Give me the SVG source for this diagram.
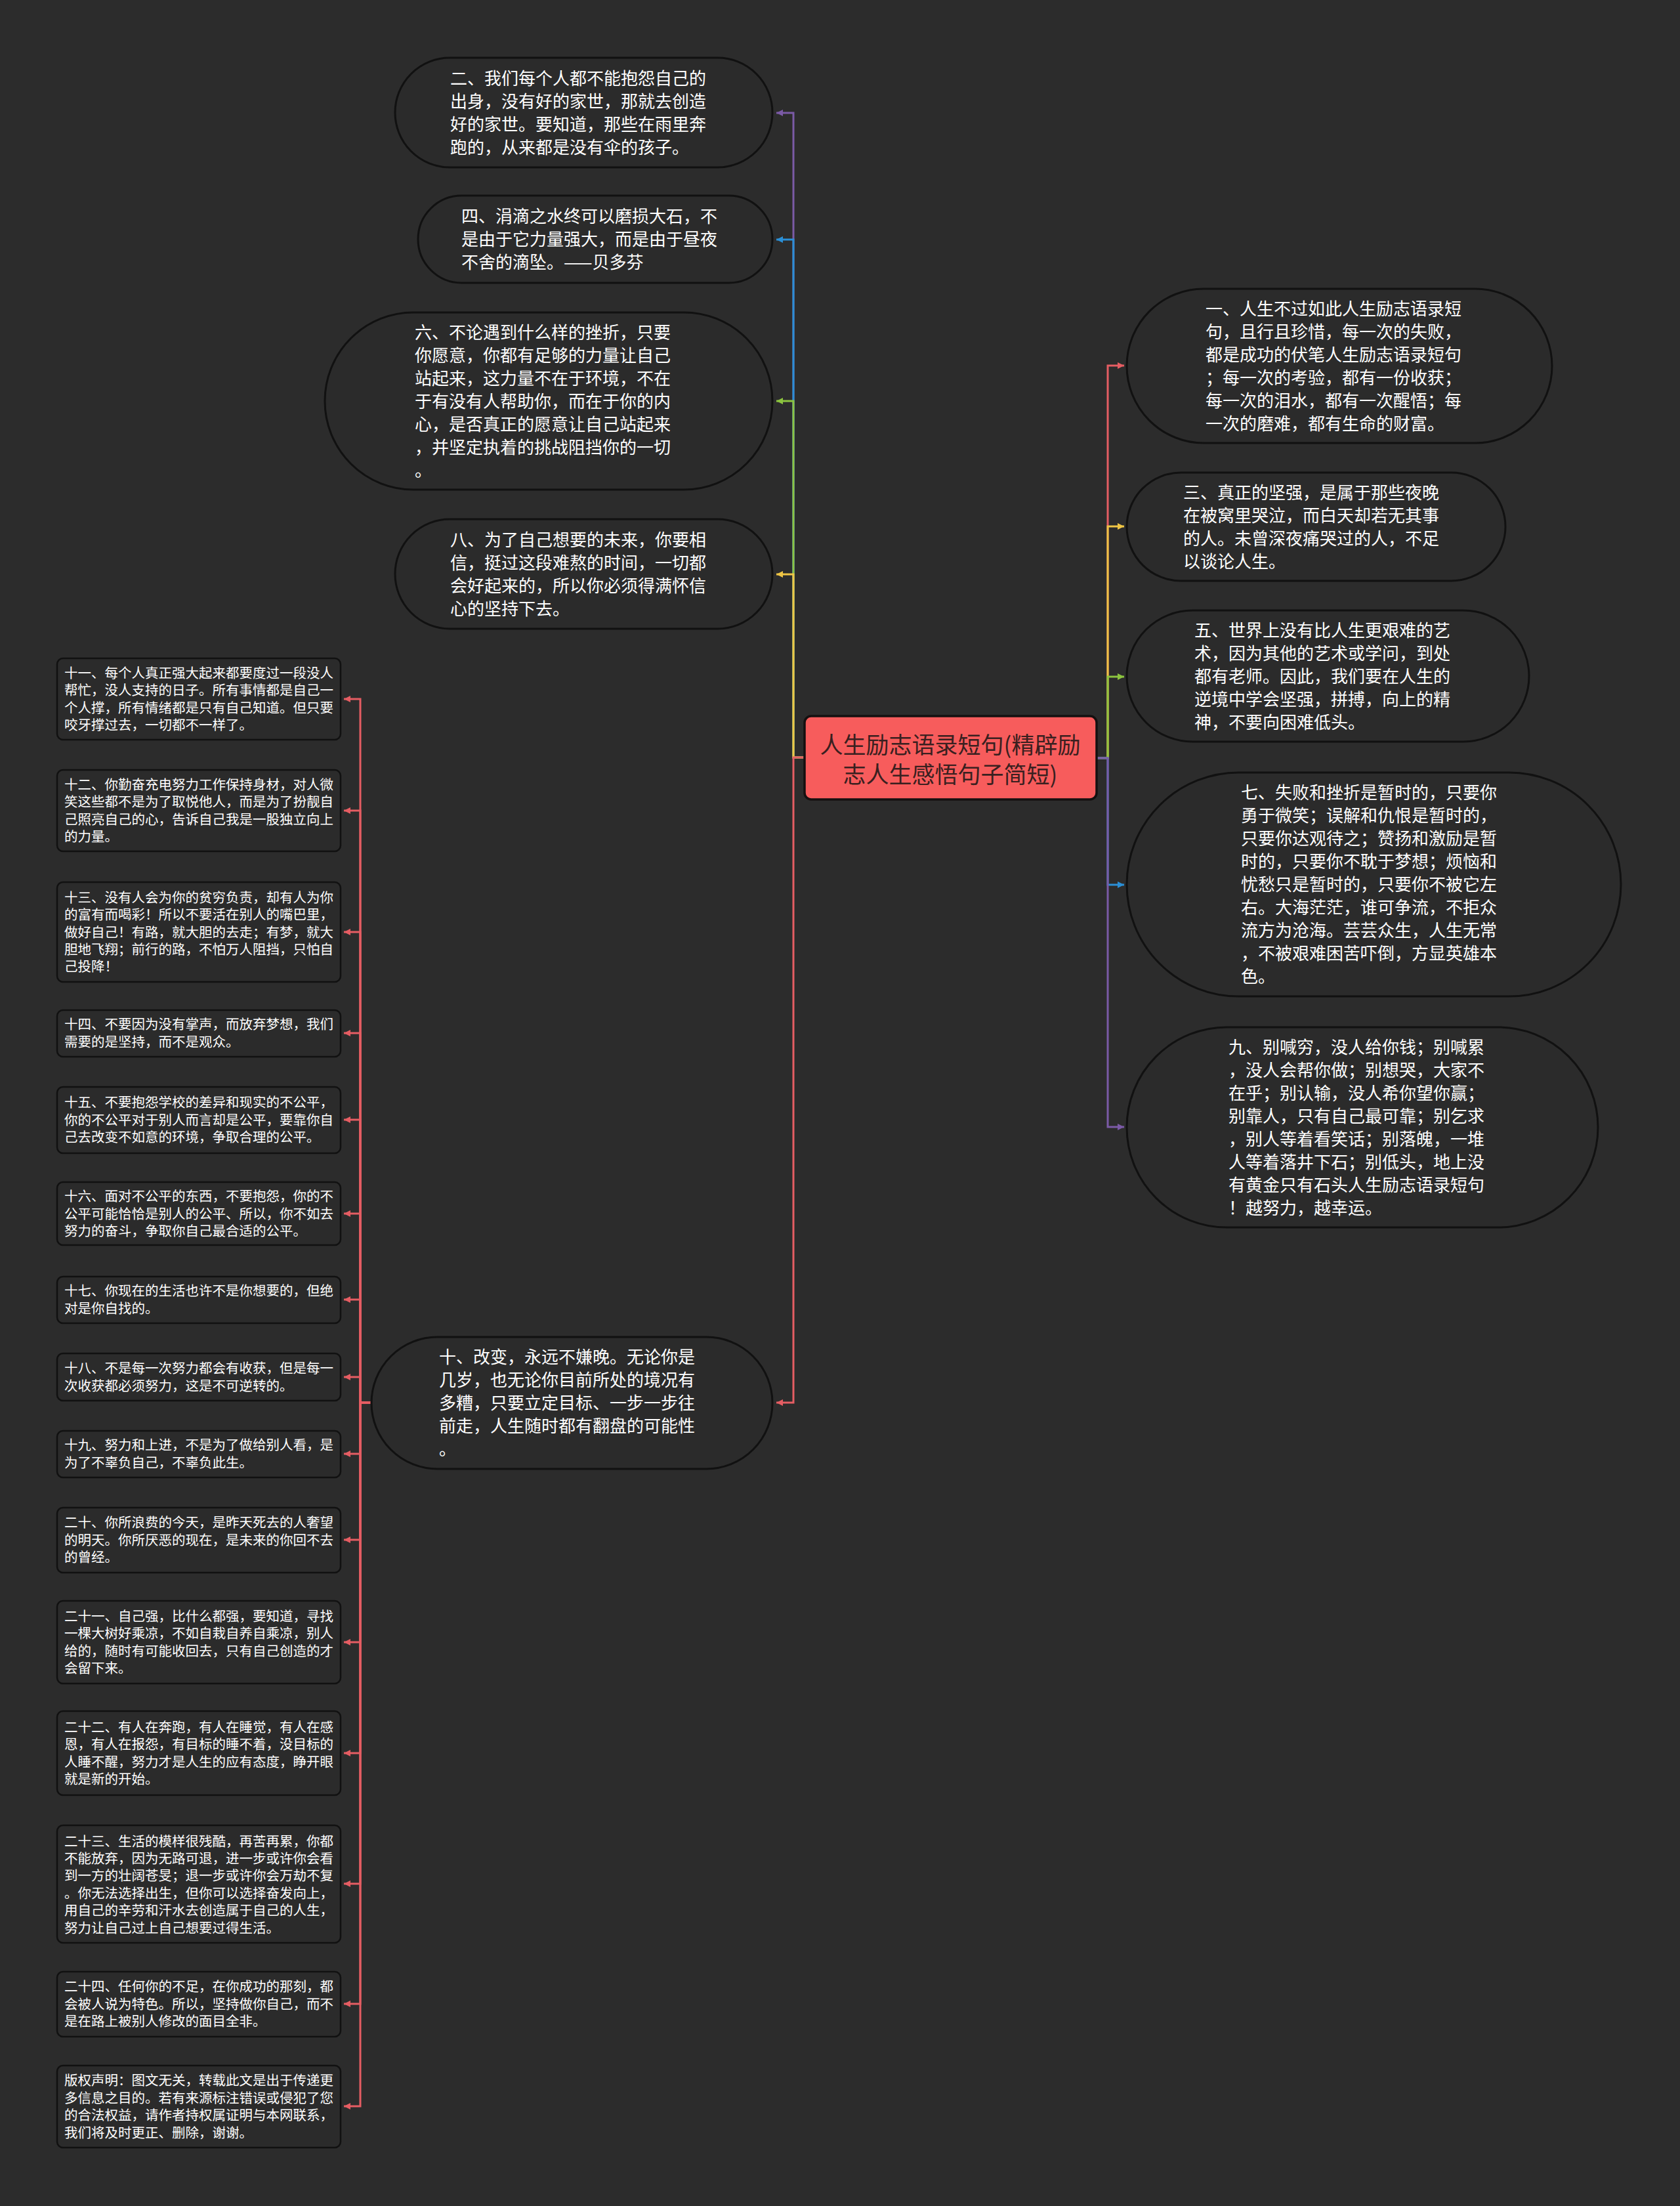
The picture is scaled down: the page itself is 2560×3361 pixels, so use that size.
<svg xmlns="http://www.w3.org/2000/svg" width="2560" height="3361" viewBox="0 0 2560 3361">
<defs>
<style>
.bg{fill:#2c2c2c}
.pill{fill:#2b2b2b;stroke:#111;stroke-width:3}
.box{fill:#2b2b2b;stroke:#111;stroke-width:2.5}
.t{font-family:"Noto Sans CJK SC","Noto Sans",sans-serif;fill:#ffffff}
.big{font-size:26px}
.small{font-size:20.5px}
.main{font-family:"Noto Sans CJK SC","Noto Sans",sans-serif;font-size:35px;fill:#3a2020;text-anchor:middle}
.c{fill:none;stroke-width:3}
.red{stroke:#e55d63}.yel{stroke:#efc545}.grn{stroke:#8cc43f}.blu{stroke:#2b8fd6}.pur{stroke:#7b5aa6}
</style>
<marker id="aR" markerUnits="userSpaceOnUse" markerWidth="12" markerHeight="12" refX="10" refY="5" orient="auto"><path d="M0,0 L10,5 L0,10 z" fill="#e55d63"/></marker>
<marker id="aY" markerUnits="userSpaceOnUse" markerWidth="12" markerHeight="12" refX="10" refY="5" orient="auto"><path d="M0,0 L10,5 L0,10 z" fill="#efc545"/></marker>
<marker id="aG" markerUnits="userSpaceOnUse" markerWidth="12" markerHeight="12" refX="10" refY="5" orient="auto"><path d="M0,0 L10,5 L0,10 z" fill="#8cc43f"/></marker>
<marker id="aB" markerUnits="userSpaceOnUse" markerWidth="12" markerHeight="12" refX="10" refY="5" orient="auto"><path d="M0,0 L10,5 L0,10 z" fill="#2b8fd6"/></marker>
<marker id="aP" markerUnits="userSpaceOnUse" markerWidth="12" markerHeight="12" refX="10" refY="5" orient="auto"><path d="M0,0 L10,5 L0,10 z" fill="#7b5aa6"/></marker>
</defs>
<rect class="bg" x="0" y="0" width="2560" height="3361"/>

<g id="connectors">
<!-- left upper -->
<path class="c pur" d="M1226 1154 H1209 V172 H1183" marker-end="url(#aP)"/>
<path class="c blu" d="M1226 1154 H1209 V365 H1183" marker-end="url(#aB)"/>
<path class="c grn" d="M1226 1154 H1209 V611 H1183" marker-end="url(#aG)"/>
<path class="c yel" d="M1226 1154 H1209 V875 H1183" marker-end="url(#aY)"/>
<path class="c red" d="M1226 1154 H1209 V2137 H1183" marker-end="url(#aR)"/>
<!-- right -->
<path class="c red" d="M1671 1155 H1688 V557 H1713" marker-end="url(#aR)"/>
<path class="c yel" d="M1671 1155 H1688 V802 H1713" marker-end="url(#aY)"/>
<path class="c grn" d="M1671 1155 H1688 V1031 H1713" marker-end="url(#aG)"/>
<path class="c blu" d="M1671 1155 H1688 V1348 H1713" marker-end="url(#aB)"/>
<path class="c pur" d="M1671 1155 H1688 V1717 H1713" marker-end="url(#aP)"/>
<!-- sub branches of 十 -->
<path class="c red" d="M566 2137 H549 V1065 H524" marker-end="url(#aR)"/>
<path class="c red" d="M566 2137 H549 V1235 H524" marker-end="url(#aR)"/>
<path class="c red" d="M566 2137 H549 V1420 H524" marker-end="url(#aR)"/>
<path class="c red" d="M566 2137 H549 V1574 H524" marker-end="url(#aR)"/>
<path class="c red" d="M566 2137 H549 V1706 H524" marker-end="url(#aR)"/>
<path class="c red" d="M566 2137 H549 V1849 H524" marker-end="url(#aR)"/>
<path class="c red" d="M566 2137 H549 V1980 H524" marker-end="url(#aR)"/>
<path class="c red" d="M566 2137 H549 V2098 H524" marker-end="url(#aR)"/>
<path class="c red" d="M566 2137 H549 V2215 H524" marker-end="url(#aR)"/>
<path class="c red" d="M566 2137 H549 V2346 H524" marker-end="url(#aR)"/>
<path class="c red" d="M566 2137 H549 V2502 H524" marker-end="url(#aR)"/>
<path class="c red" d="M566 2137 H549 V2671 H524" marker-end="url(#aR)"/>
<path class="c red" d="M566 2137 H549 V2870 H524" marker-end="url(#aR)"/>
<path class="c red" d="M566 2137 H549 V3053 H524" marker-end="url(#aR)"/>
<path class="c red" d="M566 2137 H549 V3209 H524" marker-end="url(#aR)"/>
</g>

<g id="root">
<rect x="1226" y="1091" width="445" height="127" rx="10" fill="#f75c5c" stroke="#151010" stroke-width="3.5"/>
<text class="main"><tspan x="1448" y="1148">人生励志语录短句(精辟励</tspan><tspan x="1448" y="1193">志人生感悟句子简短)</tspan></text>
</g>

<g id="n2">
<rect class="pill" x="602" y="88" width="575" height="167" rx="83.5"/>
<text class="t big"><tspan x="686" y="128.5">二、我们每个人都不能抱怨自己的</tspan><tspan x="686" dy="35">出身，没有好的家世，那就去创造</tspan><tspan x="686" dy="35">好的家世。要知道，那些在雨里奔</tspan><tspan x="686" dy="35">跑的，从来都是没有伞的孩子。</tspan></text>
</g>
<g id="n4">
<rect class="pill" x="637" y="298" width="540" height="133" rx="66.5"/>
<text class="t big"><tspan x="703" y="339">四、涓滴之水终可以磨损大石，不</tspan><tspan x="703" dy="35">是由于它力量强大，而是由于昼夜</tspan><tspan x="703" dy="35">不舍的滴坠。——贝多芬</tspan></text>
</g>
<g id="n6">
<rect class="pill" x="495" y="476" width="682" height="270" rx="135"/>
<text class="t big"><tspan x="632" y="515.5">六、不论遇到什么样的挫折，只要</tspan><tspan x="632" dy="35">你愿意，你都有足够的力量让自己</tspan><tspan x="632" dy="35">站起来，这力量不在于环境，不在</tspan><tspan x="632" dy="35">于有没有人帮助你，而在于你的内</tspan><tspan x="632" dy="35">心，是否真正的愿意让自己站起来</tspan><tspan x="632" dy="35">，并坚定执着的挑战阻挡你的一切</tspan><tspan x="632" dy="35">。</tspan></text>
</g>
<g id="n8">
<rect class="pill" x="602" y="791" width="575" height="167" rx="83.5"/>
<text class="t big"><tspan x="686" y="831.5">八、为了自己想要的未来，你要相</tspan><tspan x="686" dy="35">信，挺过这段难熬的时间，一切都</tspan><tspan x="686" dy="35">会好起来的，所以你必须得满怀信</tspan><tspan x="686" dy="35">心的坚持下去。</tspan></text>
</g>
<g id="n10">
<rect class="pill" x="566" y="2037" width="611" height="201" rx="100.5"/>
<text class="t big"><tspan x="669" y="2077">十、改变，永远不嫌晚。无论你是</tspan><tspan x="669" dy="35">几岁，也无论你目前所处的境况有</tspan><tspan x="669" dy="35">多糟，只要立定目标、一步一步往</tspan><tspan x="669" dy="35">前走，人生随时都有翻盘的可能性</tspan><tspan x="669" dy="35">。</tspan></text>
</g>

<g id="n1">
<rect class="pill" x="1717" y="440" width="648" height="235" rx="117.5"/>
<text class="t big"><tspan x="1837" y="479.5">一、人生不过如此人生励志语录短</tspan><tspan x="1837" dy="35">句，且行且珍惜，每一次的失败，</tspan><tspan x="1837" dy="35">都是成功的伏笔人生励志语录短句</tspan><tspan x="1837" dy="35">；每一次的考验，都有一份收获；</tspan><tspan x="1837" dy="35">每一次的泪水，都有一次醒悟；每</tspan><tspan x="1837" dy="35">一次的磨难，都有生命的财富。</tspan></text>
</g>
<g id="n3">
<rect class="pill" x="1717" y="720" width="577" height="165" rx="82.5"/>
<text class="t big"><tspan x="1803" y="759.5">三、真正的坚强，是属于那些夜晚</tspan><tspan x="1803" dy="35">在被窝里哭泣，而白天却若无其事</tspan><tspan x="1803" dy="35">的人。未曾深夜痛哭过的人，不足</tspan><tspan x="1803" dy="35">以谈论人生。</tspan></text>
</g>
<g id="n5">
<rect class="pill" x="1717" y="930" width="613" height="200" rx="100"/>
<text class="t big"><tspan x="1820" y="969.5">五、世界上没有比人生更艰难的艺</tspan><tspan x="1820" dy="35">术，因为其他的艺术或学问，到处</tspan><tspan x="1820" dy="35">都有老师。因此，我们要在人生的</tspan><tspan x="1820" dy="35">逆境中学会坚强，拼搏，向上的精</tspan><tspan x="1820" dy="35">神，不要向困难低头。</tspan></text>
</g>
<g id="n7">
<rect class="pill" x="1717" y="1177" width="753" height="341" rx="170.5"/>
<text class="t big"><tspan x="1891" y="1217">七、失败和挫折是暂时的，只要你</tspan><tspan x="1891" dy="35">勇于微笑；误解和仇恨是暂时的，</tspan><tspan x="1891" dy="35">只要你达观待之；赞扬和激励是暂</tspan><tspan x="1891" dy="35">时的，只要你不耽于梦想；烦恼和</tspan><tspan x="1891" dy="35">忧愁只是暂时的，只要你不被它左</tspan><tspan x="1891" dy="35">右。大海茫茫，谁可争流，不拒众</tspan><tspan x="1891" dy="35">流方为沧海。芸芸众生，人生无常</tspan><tspan x="1891" dy="35">，不被艰难困苦吓倒，方显英雄本</tspan><tspan x="1891" dy="35">色。</tspan></text>
</g>
<g id="n9">
<rect class="pill" x="1717" y="1565" width="718" height="305" rx="152.5"/>
<text class="t big"><tspan x="1872" y="1604.5">九、别喊穷，没人给你钱；别喊累</tspan><tspan x="1872" dy="35">，没人会帮你做；别想哭，大家不</tspan><tspan x="1872" dy="35">在乎；别认输，没人希你望你赢；</tspan><tspan x="1872" dy="35">别靠人，只有自己最可靠；别乞求</tspan><tspan x="1872" dy="35">，别人等着看笑话；别落魄，一堆</tspan><tspan x="1872" dy="35">人等着落井下石；别低头，地上没</tspan><tspan x="1872" dy="35">有黄金只有石头人生励志语录短句</tspan><tspan x="1872" dy="35">！越努力，越幸运。</tspan></text>
</g>

<g id="n11">
<rect class="box" x="87" y="1003" width="432" height="124" rx="9"/>
<text class="t small"><tspan x="98" y="1033">十一、每个人真正强大起来都要度过一段没人</tspan><tspan x="98" dy="26.4">帮忙，没人支持的日子。所有事情都是自己一</tspan><tspan x="98" dy="26.4">个人撑，所有情绪都是只有自己知道。但只要</tspan><tspan x="98" dy="26.4">咬牙撑过去，一切都不一样了。</tspan></text>
</g>
<g id="n12">
<rect class="box" x="87" y="1173" width="432" height="124" rx="9"/>
<text class="t small"><tspan x="98" y="1203">十二、你勤奋充电努力工作保持身材，对人微</tspan><tspan x="98" dy="26.4">笑这些都不是为了取悦他人，而是为了扮靓自</tspan><tspan x="98" dy="26.4">己照亮自己的心，告诉自己我是一股独立向上</tspan><tspan x="98" dy="26.4">的力量。</tspan></text>
</g>
<g id="n13">
<rect class="box" x="87" y="1344" width="432" height="152" rx="9"/>
<text class="t small"><tspan x="98" y="1374.7">十三、没有人会为你的贫穷负责，却有人为你</tspan><tspan x="98" dy="26.4">的富有而喝彩！所以不要活在别人的嘴巴里，</tspan><tspan x="98" dy="26.4">做好自己！有路，就大胆的去走；有梦，就大</tspan><tspan x="98" dy="26.4">胆地飞翔；前行的路，不怕万人阻挡，只怕自</tspan><tspan x="98" dy="26.4">己投降！</tspan></text>
</g>
<g id="n14">
<rect class="box" x="87" y="1539" width="432" height="71" rx="9"/>
<text class="t small"><tspan x="98" y="1568.3">十四、不要因为没有掌声，而放弃梦想，我们</tspan><tspan x="98" dy="26.4">需要的是坚持，而不是观众。</tspan></text>
</g>
<g id="n15">
<rect class="box" x="87" y="1656" width="432" height="101" rx="9"/>
<text class="t small"><tspan x="98" y="1687.1">十五、不要抱怨学校的差异和现实的不公平，</tspan><tspan x="98" dy="26.4">你的不公平对于别人而言却是公平，要靠你自</tspan><tspan x="98" dy="26.4">己去改变不如意的环境，争取合理的公平。</tspan></text>
</g>
<g id="n16">
<rect class="box" x="87" y="1801" width="432" height="96" rx="9"/>
<text class="t small"><tspan x="98" y="1830.1">十六、面对不公平的东西，不要抱怨，你的不</tspan><tspan x="98" dy="26.4">公平可能恰恰是别人的公平、所以，你不如去</tspan><tspan x="98" dy="26.4">努力的奋斗，争取你自己最合适的公平。</tspan></text>
</g>
<g id="n17">
<rect class="box" x="87" y="1945" width="432" height="71" rx="9"/>
<text class="t small"><tspan x="98" y="1974.3">十七、你现在的生活也许不是你想要的，但绝</tspan><tspan x="98" dy="26.4">对是你自找的。</tspan></text>
</g>
<g id="n18">
<rect class="box" x="87" y="2062" width="432" height="72" rx="9"/>
<text class="t small"><tspan x="98" y="2092.3">十八、不是每一次努力都会有收获，但是每一</tspan><tspan x="98" dy="26.4">次收获都必须努力，这是不可逆转的。</tspan></text>
</g>
<g id="n19">
<rect class="box" x="87" y="2180" width="432" height="71" rx="9"/>
<text class="t small"><tspan x="98" y="2209.3">十九、努力和上进，不是为了做给别人看，是</tspan><tspan x="98" dy="26.4">为了不辜负自己，不辜负此生。</tspan></text>
</g>
<g id="n20">
<rect class="box" x="87" y="2297" width="432" height="99" rx="9"/>
<text class="t small"><tspan x="98" y="2327.1">二十、你所浪费的今天，是昨天死去的人奢望</tspan><tspan x="98" dy="26.4">的明天。你所厌恶的现在，是未来的你回不去</tspan><tspan x="98" dy="26.4">的曾经。</tspan></text>
</g>
<g id="n21">
<rect class="box" x="87" y="2439" width="432" height="126" rx="9"/>
<text class="t small"><tspan x="98" y="2469.9">二十一、自己强，比什么都强，要知道，寻找</tspan><tspan x="98" dy="26.4">一棵大树好乘凉，不如自栽自养自乘凉，别人</tspan><tspan x="98" dy="26.4">给的，随时有可能收回去，只有自己创造的才</tspan><tspan x="98" dy="26.4">会留下来。</tspan></text>
</g>
<g id="n22">
<rect class="box" x="87" y="2607" width="432" height="128" rx="9"/>
<text class="t small"><tspan x="98" y="2638.9">二十二、有人在奔跑，有人在睡觉，有人在感</tspan><tspan x="98" dy="26.4">恩，有人在报怨，有目标的睡不着，没目标的</tspan><tspan x="98" dy="26.4">人睡不醒，努力才是人生的应有态度，睁开眼</tspan><tspan x="98" dy="26.4">就是新的开始。</tspan></text>
</g>
<g id="n23">
<rect class="box" x="87" y="2781" width="432" height="179" rx="9"/>
<text class="t small"><tspan x="98" y="2812.5">二十三、生活的模样很残酷，再苦再累，你都</tspan><tspan x="98" dy="26.4">不能放弃，因为无路可退，进一步或许你会看</tspan><tspan x="98" dy="26.4">到一方的壮阔苍旻；退一步或许你会万劫不复</tspan><tspan x="98" dy="26.4">。你无法选择出生，但你可以选择奋发向上，</tspan><tspan x="98" dy="26.4">用自己的辛劳和汗水去创造属于自己的人生，</tspan><tspan x="98" dy="26.4">努力让自己过上自己想要过得生活。</tspan></text>
</g>
<g id="n24">
<rect class="box" x="87" y="3004" width="432" height="99" rx="9"/>
<text class="t small"><tspan x="98" y="3034.1">二十四、任何你的不足，在你成功的那刻，都</tspan><tspan x="98" dy="26.4">会被人说为特色。所以，坚持做你自己，而不</tspan><tspan x="98" dy="26.4">是在路上被别人修改的面目全非。</tspan></text>
</g>
<g id="ncopy">
<rect class="box" x="87" y="3147" width="432" height="125" rx="9"/>
<text class="t small"><tspan x="98" y="3177.4">版权声明：图文无关，转载此文是出于传递更</tspan><tspan x="98" dy="26.4">多信息之目的。若有来源标注错误或侵犯了您</tspan><tspan x="98" dy="26.4">的合法权益，请作者持权属证明与本网联系，</tspan><tspan x="98" dy="26.4">我们将及时更正、删除，谢谢。</tspan></text>
</g>
</svg>
